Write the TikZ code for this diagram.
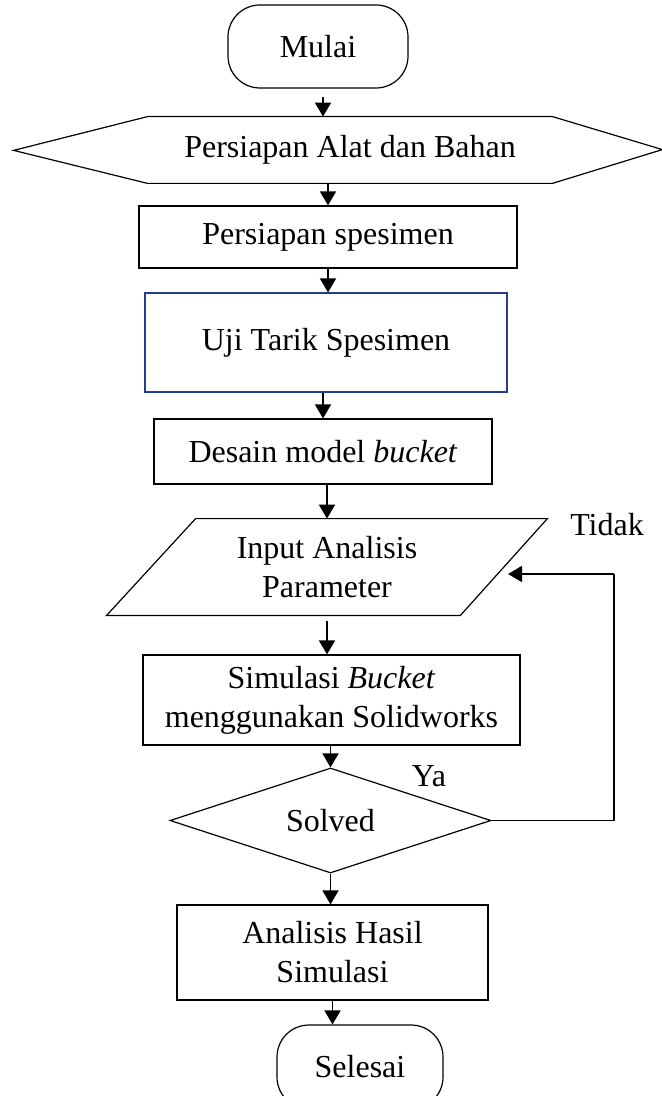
\documentclass[tikz,border=0pt]{standalone}
\usepackage{fontspec}
\setmainfont{Liberation Serif}
\usetikzlibrary{shapes.geometric,arrows.meta}
\definecolor{ujiblue}{HTML}{23408E}

\begin{document}
\begin{tikzpicture}[x=0.5pt,y=-0.5pt] % 1 px of the sketch = 0.5pt, y goes down
\tikzstyle{every node} = [font=\fontsize{16}{19.5}\selectfont, align=center]
\tikzstyle{terminal} = [draw, rectangle, rounded corners=16pt, line width=0.6pt, inner sep=0pt] % Mulai / Selesai
\tikzstyle{proses} = [draw, rectangle, line width=0.6pt, inner sep=0pt] % process box
\tikzstyle{keputusan} = [draw, diamond, aspect=3, line width=0.6pt, inner sep=0pt] % decision
\tikzstyle{kosong} = [rectangle, inner sep=0pt] % text only, border drawn by hand
\tikzstyle{panah} = [-{Triangle[width=8pt,length=7pt]}, line width=0.9pt] % thick arrow
\tikzstyle{garis} = [line width=0.6pt]

\useasboundingbox (0,0) rectangle (662,1096);

\node[terminal, minimum width=90pt, minimum height=41.5pt] (mulai) at (318,46.5) {Mulai};
\node[kosong, minimum width=202pt, minimum height=33pt] (alat) at (350,150) {Persiapan Alat dan Bahan};
\draw[garis] (alat.north west) -- (alat.north east) -- ++(110,33) -- (alat.south east)
    -- (alat.south west) -- ++(-134,-33) -- cycle; % hexagon
\node[proses, minimum width=189pt, minimum height=31pt] (siap) at (328,237) {Persiapan spesimen};
\node[proses, draw=ujiblue, minimum width=181pt, minimum height=49.5pt] (uji) at (326,342.5) {Uji Tarik Spesimen};
\node[proses, minimum width=169pt, minimum height=32.5pt] (desain) at (323,451.5) {Desain model \textit{bucket}};
\node[kosong, minimum width=220pt, minimum height=48pt] (input) at (327,567) {Input Analisis\\Parameter};
\draw[garis] ([xshift=44.5pt]input.north west) -- (input.north east)
    -- ([xshift=-43.5pt]input.south east) -- (input.south west) -- cycle; % parallelogram
\node[proses, minimum width=188.5pt, minimum height=45pt] (simulasi) at (331.5,700) {Simulasi \textit{Bucket}\\menggunakan Solidworks};
\node[keputusan, minimum width=160.5pt, minimum height=52.5pt] (solved) at (330.5,820.5) {Solved};
\node[proses, minimum width=155.5pt, minimum height=47.5pt] (hasil) at (332.5,952.5) {Analisis Hasil\\Simulasi};
\node[terminal, minimum width=83pt, minimum height=42pt] (selesai) at (360,1067) {Selesai};

\node (ya) at (429,776) {Ya};
\node (tidak) at (607,525) {Tidak};

\draw[panah, shorten <=4pt] ([xshift=2.5pt]mulai.south) -- ([xshift=2.5pt]mulai.south |- alat.north);
\draw[panah] (siap.north |- alat.south) -- (siap.north);
\draw[panah] (siap.south) -- (siap.south |- uji.north);
\draw[panah] (desain.north |- uji.south) -- (desain.north);
\draw[panah] (input.north |- desain.south) -- (input.north);
\draw[panah, shorten <=3pt] (input.south) -- (input.south |- simulasi.north);
\draw[panah] (solved.north |- simulasi.south) -- (solved.north);
\draw[panah] (solved.south) -- (solved.south |- hasil.north);
\draw[panah] (hasil.south) -- (hasil.south |- selesai.north);

\coordinate (balik) at (614,574); % loop corner
\coordinate (masuk) at (508,574); % arrow end near the parallelogram
\draw[garis] (solved.east) -| (balik);
\draw[panah] (balik) -- (masuk);
\end{tikzpicture}
\end{document}
